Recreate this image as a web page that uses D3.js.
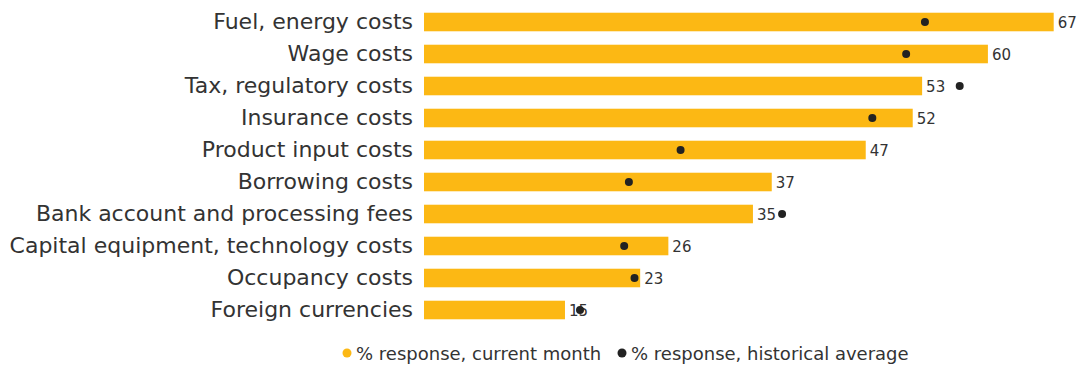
<!DOCTYPE html>
<html>
<head>
<meta charset="utf-8">
<script src="https://cdn.jsdelivr.net/npm/d3@7"></script>
<style>
  html, body { margin: 0; padding: 0; background: #fff; }
  svg { display: block; }
</style>
</head>
<body>
<svg id="chart" width="1079" height="366"></svg>
<script>
const categories = [
  "Fuel, energy costs",
  "Wage costs",
  "Tax, regulatory costs",
  "Insurance costs",
  "Product input costs",
  "Borrowing costs",
  "Bank account and processing fees",
  "Capital equipment, technology costs",
  "Occupancy costs",
  "Foreign currencies"
];
const currentMonth = [67, 60, 53, 52, 47, 37, 35, 26, 23, 15];
const historicalAverage = [53.3, 51.3, 57.0, 47.7, 27.3, 21.8, 38.1, 21.3, 22.4, 16.6];
const legendLabels = ["% response, current month", "% response, historical average"];

const barColor = "#FCB814";
const dotColor = "#222222";
const textColor = "#333333";
const fontFamily = "'DejaVu Sans', sans-serif";

const svg = d3.select("#chart");

const x = d3.scaleLinear().domain([0, 67]).range([424, 1053.7]);
const y = d3.scaleBand().domain(categories).range([6, 326]).paddingInner(0.42).paddingOuter(0.21);

// category labels
svg.append("g")
  .attr("transform", `translate(${x(0)},0)`)
  .call(d3.axisLeft(y).tickSize(0).tickPadding(11))
  .call(g => g.select(".domain").remove())
  .selectAll("text")
  .attr("fill", textColor)
  .style("font-family", fontFamily)
  .style("font-size", "22px");

const data = categories.map((c, i) => ({ c, v: currentMonth[i], h: historicalAverage[i] }));

svg.append("g").selectAll("rect")
  .data(data).join("rect")
  .attr("x", x(0))
  .attr("y", d => y(d.c))
  .attr("width", d => x(d.v) - x(0))
  .attr("height", y.bandwidth())
  .attr("fill", barColor);

svg.append("g").selectAll("text")
  .data(data).join("text")
  .attr("x", d => x(d.v) + 4)
  .attr("y", d => y(d.c) + y.bandwidth() / 2 + 6)
  .attr("fill", textColor)
  .style("font-family", fontFamily)
  .style("font-size", "15px")
  .text(d => d.v);

svg.append("g").selectAll("circle")
  .data(data).join("circle")
  .attr("cx", d => x(d.h))
  .attr("cy", d => y(d.c) + y.bandwidth() / 2)
  .attr("r", 4)
  .attr("fill", dotColor);

// legend
const legend = svg.append("g").attr("transform", "translate(0,353)");
const items = [
  { label: legendLabels[0], color: barColor, cx: 347 },
  { label: legendLabels[1], color: dotColor, cx: 622 }
];
items.forEach(it => {
  legend.append("circle").attr("cx", it.cx).attr("cy", 0).attr("r", 4.5).attr("fill", it.color);
  legend.append("text")
    .attr("x", it.cx + 9)
    .attr("y", 6.5)
    .attr("fill", textColor)
    .style("font-family", fontFamily)
    .style("font-size", "18px")
    .text(it.label);
});
</script>
</body>
</html>
